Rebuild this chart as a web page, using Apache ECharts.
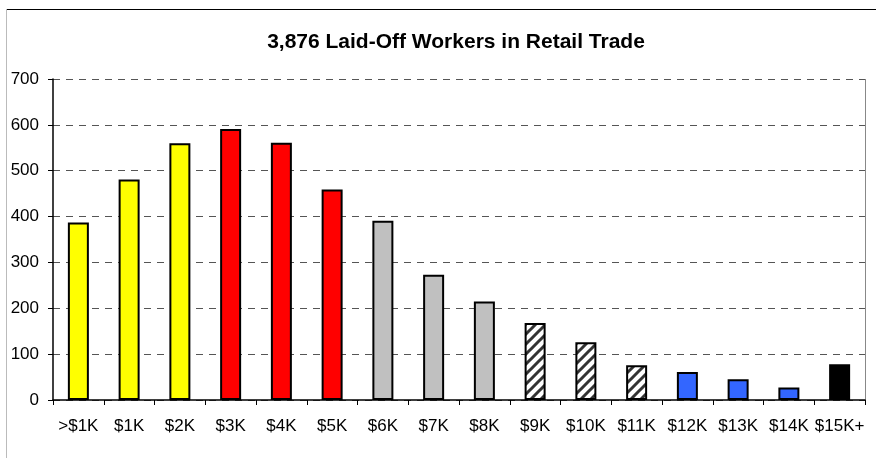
<!DOCTYPE html>
<html>
<head>
	<meta charset="utf-8" />
	<title>Laid-Off Workers in Retail Trade</title>
	<script src="https://cdn.jsdelivr.net/npm/echarts@6/dist/echarts.min.js"></script>
	<style>
		* { margin: 0; padding: 0; }
		html, body { width: 876px; height: 458px; background: #fff; overflow: hidden; }
		#main { width: 876px; height: 458px; }
	</style>
</head>
<body>
	<div id="main"></div>
	<script>
		// 数据
		var categories = ['>$1K', '$1K', '$2K', '$3K', '$4K', '$5K', '$6K', '$7K', '$8K', '$9K', '$10K', '$11K', '$12K', '$13K', '$14K', '$15K+'];
		var workers = [387, 481, 560, 591, 561, 459, 391, 273, 215, 168, 126, 76, 61, 45, 27, 78];
		// 每根柱子的填充类型
		var fills = ['yellow', 'yellow', 'yellow', 'red', 'red', 'red', 'gray', 'gray', 'gray', 'hatch', 'hatch', 'hatch', 'blue', 'blue', 'blue', 'black'];
		var yTicks = [0, 100, 200, 300, 400, 500, 600, 700];

		// 斜线填充
		function hatchPattern() {
			var c = document.createElement('canvas');
			c.width = 10; c.height = 10;
			var ctx = c.getContext('2d');
			ctx.fillStyle = '#fff';
			ctx.fillRect(0, 0, 10, 10);
			ctx.strokeStyle = '#333';
			ctx.lineWidth = 3;
			ctx.beginPath();
			ctx.moveTo(-2, 12); ctx.lineTo(12, -2);
			ctx.moveTo(-7, 7); ctx.lineTo(7, -7);
			ctx.moveTo(3, 17); ctx.lineTo(17, 3);
			ctx.stroke();
			return { image: c, repeat: 'repeat' };
		}

		var colorMap = {
			yellow: '#ffff00',
			red: '#ff0000',
			gray: '#c0c0c0',
			hatch: hatchPattern(),
			blue: '#3366ff',
			black: '#000000'
		};

		var barData = workers.map(function (v, i) {
			return { value: v, itemStyle: { color: colorMap[fills[i]] } };
		});

		var chart = echarts.init(document.getElementById('main'));
		var option = {
			animation: false,
			title: {
				text: '3,876 Laid-Off Workers in Retail Trade',
				left: 451,
				top: 27,
				textAlign: 'center',
				textStyle: { fontFamily: 'Liberation Sans, Arial', fontSize: 21, fontWeight: 'bold', color: '#000' }
			},
			grid: { left: 53, right: 11, top: 79, bottom: 58 },
			xAxis: {
				type: 'category',
				data: categories,
				axisLine: { lineStyle: { color: '#000', width: 1.5 } },
				axisTick: { show: true, length: 5, lineStyle: { color: '#000' } },
				axisLabel: { color: '#000', fontFamily: 'Liberation Sans, Arial', fontSize: 17, margin: 18, interval: 0 }
			},
			yAxis: {
				type: 'value',
				min: yTicks[0],
				max: yTicks[yTicks.length - 1],
				interval: 100,
				axisLine: { show: true, lineStyle: { color: '#000', width: 1.5 } },
				axisTick: { show: true, length: 5, lineStyle: { color: '#000' } },
				axisLabel: { color: '#000', fontFamily: 'Liberation Sans, Arial', fontSize: 17, margin: 14 },
				splitLine: { show: true, lineStyle: { color: '#555', type: [7, 6], width: 1 } }
			},
			series: [{
				type: 'bar',
				data: barData,
				barWidth: 21,
				itemStyle: { borderColor: '#000', borderWidth: 2 }
			}],
			graphic: [
				// 外框和绘图区右边框
				{ type: 'line', shape: { x1: 6, y1: 9.5, x2: 876, y2: 9.5 }, style: { stroke: '#000', lineWidth: 1 } },
				{ type: 'line', shape: { x1: 6.5, y1: 9, x2: 6.5, y2: 458 }, style: { stroke: '#bbb', lineWidth: 1 } },
				{ type: 'line', shape: { x1: 865.5, y1: 79, x2: 865.5, y2: 400 }, style: { stroke: '#888', lineWidth: 1 } }
			]
		};
		chart.setOption(option);
	</script>
</body>
</html>
